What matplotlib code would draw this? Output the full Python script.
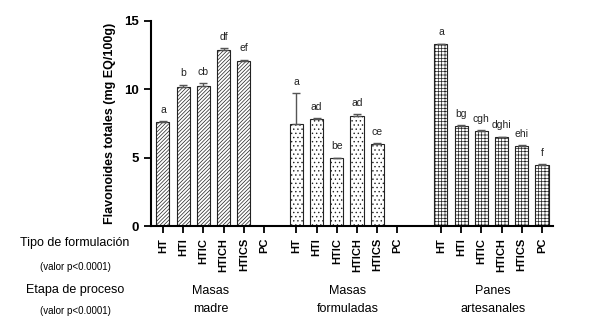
import matplotlib
matplotlib.use("Agg")
import matplotlib.pyplot as plt
import numpy as np

plt.rcParams['font.family'] = ['Liberation Sans', 'DejaVu Sans']
plt.rcParams['hatch.linewidth'] = 0.5
plt.rcParams['hatch.color'] = '#333333'

formulations = ["HT", "HTI", "HTIC", "HTICH", "HTICS", "PC"]
stages = ["Masas\nmadre", "Masas\nformuladas", "Panes\nartesanales"]

madre_vals = [7.63, 10.15, 10.28, 12.88, 12.1, np.nan]
madre_err = [0.05, 0.2, 0.15, 0.15, 0.08, np.nan]
madre_letters = ["a", "b", "cb", "df", "ef", ""]

formuladas_vals = [7.46, 7.85, 4.97, 8.08, 6.02, np.nan]
formuladas_err = [2.25, 0.04, 0.04, 0.12, 0.06, np.nan]
formuladas_letters = ["a", "ad", "be", "ad", "ce", ""]

panes_vals = [13.3, 7.31, 6.98, 6.5, 5.85, 4.48]
panes_err = [0.05, 0.05, 0.05, 0.05, 0.05, 0.05]
panes_letters = ["a", "bg", "cgh", "dghi", "ehi", "f"]

groups = [(madre_vals, madre_err, madre_letters, '/' * 9),
          (formuladas_vals, formuladas_err, formuladas_letters, '....'),
          (panes_vals, panes_err, panes_letters, '+++++')]
offsets = [0.0, 6.6, 13.75]

fig = plt.figure(figsize=(5.89, 3.23), dpi=100)
ax = fig.add_axes([0.256, 0.300, 0.683, 0.635])

tick_pos = []
tick_lab = []
for (vals, errs, letters, hatch), off in zip(groups, offsets):
    x = off + np.arange(len(formulations))
    v = np.array(vals, dtype=float)
    e = np.array(errs, dtype=float)
    ax.bar(x, np.nan_to_num(v), width=0.65, color='white', edgecolor='#222222',
           linewidth=0.8, hatch=hatch, zorder=2)
    ax.errorbar(x, v, yerr=[np.zeros_like(e), e], fmt='none', ecolor='#555555',
                elinewidth=1.0, capsize=3, capthick=1.0, zorder=3)
    for xi, vi, ei, lab in zip(x, v, e, letters):
        if lab and not np.isnan(vi):
            ax.text(xi, vi + ei + 0.45, lab, ha='center', va='bottom', fontsize=7.5, color='#222222')
    tick_pos.extend(x)
    tick_lab.extend(formulations)

ax.set_xlim(-0.6, 19.3)
ax.set_ylim(0, 15)
ax.set_yticks([0, 5, 10, 15])
ax.set_xticks(tick_pos)
ax.set_xticklabels(tick_lab, rotation=90, fontsize=8, fontweight='bold')
for lbl in ax.get_yticklabels():
    lbl.set_fontweight('bold')
    lbl.set_fontsize(9.5)
ax.tick_params(axis='both', direction='out', length=5, width=1.3)
ax.spines['top'].set_visible(False)
ax.spines['right'].set_visible(False)
ax.spines['left'].set_linewidth(1.5)
ax.spines['bottom'].set_linewidth(1.5)
ax.set_ylabel("Flavonoides totales (mg EQ/100g)", fontsize=9, fontweight='bold', labelpad=6)

fig.text(75 / 589, 1 - 243 / 323, "Tipo de formulación", ha='center', va='center', fontsize=9)
fig.text(75 / 589, 1 - 267 / 323, "(valor p<0.0001)", ha='center', va='center', fontsize=7)
fig.text(75 / 589, 1 - 290 / 323, "Etapa de proceso", ha='center', va='center', fontsize=9)
fig.text(75 / 589, 1 - 311 / 323, "(valor p<0.0001)", ha='center', va='center', fontsize=7)

stage_x = [211, 348, 493]
for sx, st in zip(stage_x, stages):
    fig.text(sx / 589, 1 - 300 / 323, st, ha='center', va='center', fontsize=9, linespacing=1.6)

fig.savefig("out.png", dpi=100)
